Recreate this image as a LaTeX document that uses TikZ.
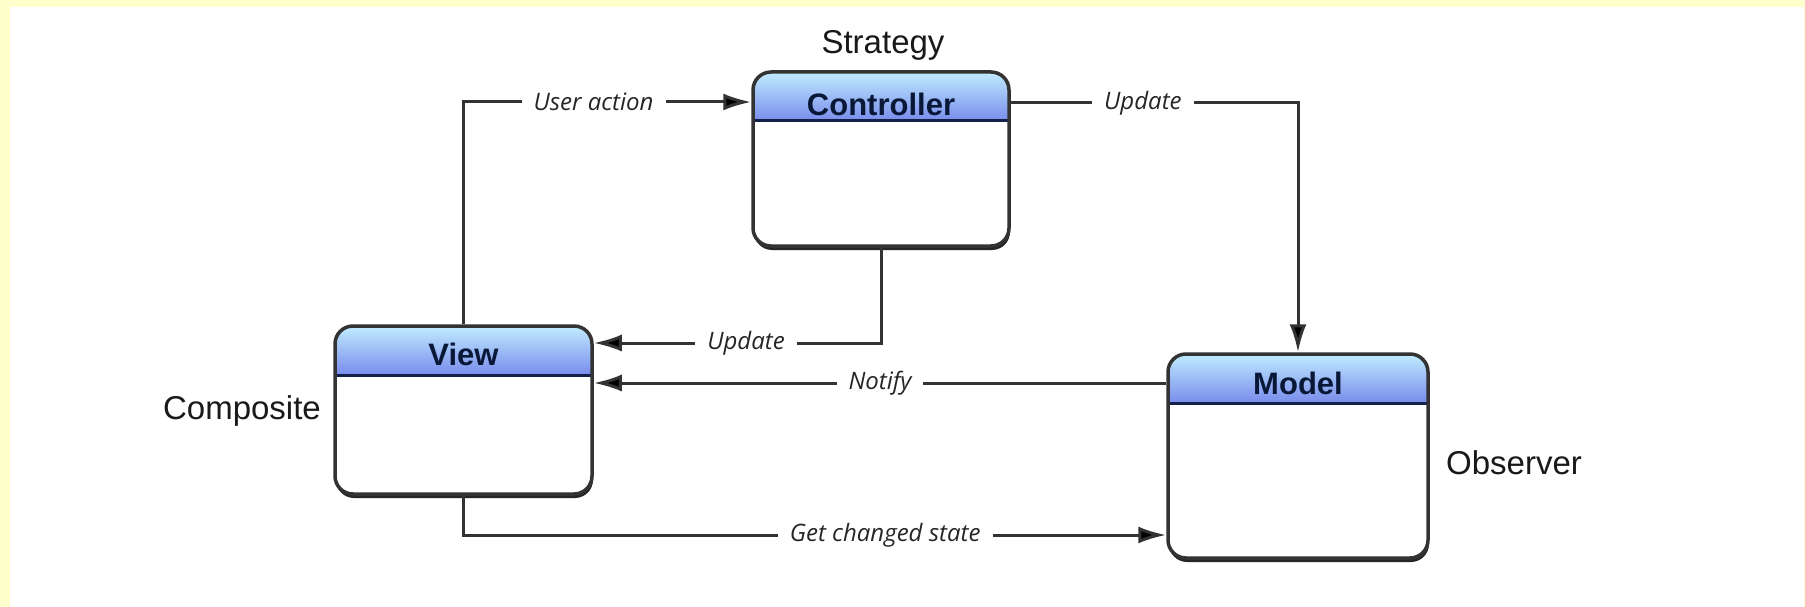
\documentclass[tikz,border=0pt]{standalone}
\usepackage{fontspec}
\setmainfont{Liberation Sans}
\newfontfamily\lblfont{Open Sans}
\usetikzlibrary{arrows.meta,shadows}

\definecolor{pagebg}{HTML}{FFFFCC}
\definecolor{boxedge}{HTML}{333333}
\definecolor{hdtop}{HTML}{C0ECFF}
\definecolor{hdbot}{HTML}{7A8EEC}
\definecolor{hdline}{HTML}{15204A}
\definecolor{titlecol}{HTML}{0A1838}
\definecolor{wire}{HTML}{333333}

\tikzset{
  classbox/.style={
    draw=boxedge, line width=3.5pt, rounded corners=18pt, fill=white,
    inner sep=0pt,
    drop shadow={shadow xshift=1pt, shadow yshift=-4pt, fill=black!85, opacity=1},
    path picture={
      % header band: vertical gradient built from thin strips
      \foreach \i in {0,...,48} {
        \pgfmathtruncatemacro\pct{100-\i*100/48}
        \fill[hdtop!\pct!hdbot, sharp corners]
          ([yshift=-\i pt]path picture bounding box.north west) rectangle
          ([yshift=-\i pt-1.3pt]path picture bounding box.north east);
      }
      \draw[hdline, line width=3pt, sharp corners]
        ([yshift=-49pt]path picture bounding box.north west) --
        ([yshift=-49pt]path picture bounding box.north east);
    }
  },
  boxtitle/.style={font=\fontsize{31}{36}\selectfont\bfseries, text=titlecol, inner sep=0pt},
  role/.style={font=\fontsize{33}{38}\selectfont, text=black!90, inner sep=0pt},
  conn/.style={draw=wire, line width=3pt,
    -{Latex[length=28pt, width=17pt, fill=black]}},
  lbl/.style={font=\lblfont\itshape\fontsize{24}{28}\selectfont, text=black!85,
    fill=white, inner xsep=12pt, inner ysep=2pt}
}

\begin{document}
\begin{tikzpicture}[x=1pt, y=-1pt]
  % page frame
  \useasboundingbox (0,0) rectangle (1805,607);
  \fill[pagebg] (0,0) rectangle (1805,607);
  \fill[white] (10,7) rectangle (1804,607);

  % the three classes
  \node[classbox, minimum width=256pt, minimum height=174pt] (ctrl)  at (881,159)    {};
  \node[classbox, minimum width=257pt, minimum height=168pt] (view)  at (463.5,410) {};
  \node[classbox, minimum width=260pt, minimum height=204pt] (model) at (1298,456)   {};

  \node[boxtitle] (ctrl-t)  at ([yshift=-34pt]ctrl.north)  {Controller};
  \node[boxtitle] (view-t)  at ([yshift=-30pt]view.north)  {View};
  \node[boxtitle] (model-t) at ([yshift=-31pt]model.north) {Model};

  % pattern roles
  \node[role] (strategy)  at (883,45)   {Strategy};
  \node[role] (composite) at (242,411)  {Composite};
  \node[role] (observer)  at (1514,463) {Observer};

  % messages
  \draw[conn] (view.north) |- node[lbl, pos=0.726] {User action} ([yshift=57pt]ctrl.west);
  \draw[conn] ([yshift=56pt]ctrl.east) -| node[lbl, pos=0.23] {Update} (model.north);
  \draw[conn] (ctrl.south) |- node[lbl, pos=0.735] {Update} ([yshift=67pt]view.east);
  \draw[conn] ([yshift=73pt]model.west) -- node[lbl, pos=0.5] {Notify} ([yshift=27pt]view.east);
  \draw[conn] (view.south) |- node[lbl, pos=0.80] {Get changed state} ([yshift=-79pt]model.west);
\end{tikzpicture}
\end{document}
